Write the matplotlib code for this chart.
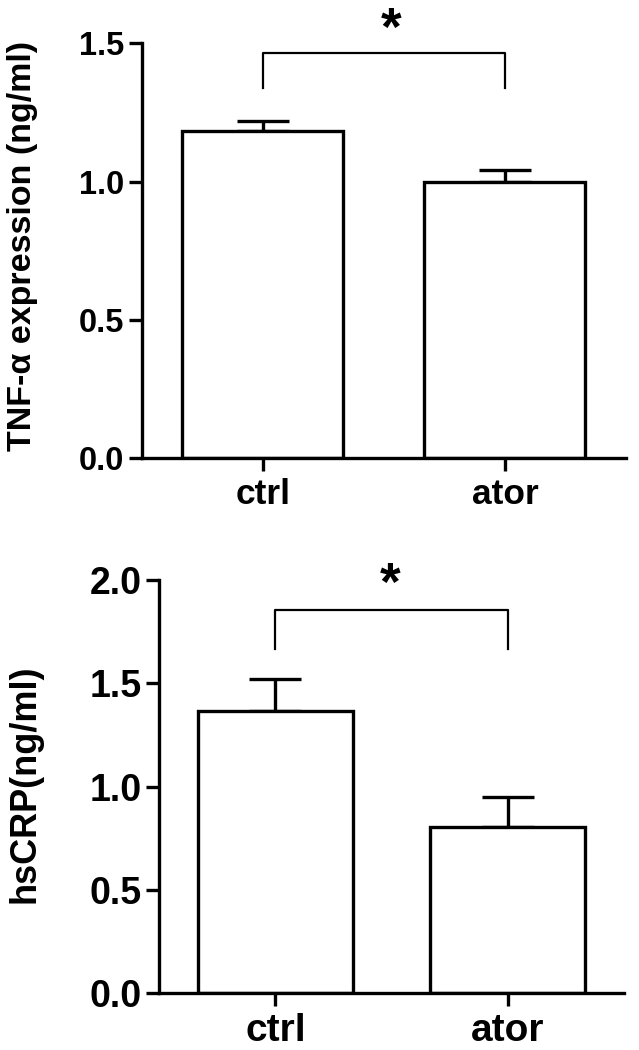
import numpy as np
import matplotlib
matplotlib.use("Agg")
import matplotlib.pyplot as plt

plt.rcParams['font.family'] = ['Liberation Sans', 'DejaVu Sans']
plt.rcParams['font.weight'] = 'bold'

groups = ["ctrl", "ator"]

tnf_mean = [1.183, 1.0]
tnf_err = [0.036, 0.042]
tnf_ylabel = "TNF-\u03b1 expression (ng/ml)"
tnf_ticks = [0.0, 0.5, 1.0, 1.5]
tnf_bracket = (1.466, 1.337)

crp_mean = [1.365, 0.805]
crp_err = [0.158, 0.142]
crp_ylabel = "hsCRP(ng/ml)"
crp_ticks = [0.0, 0.5, 1.0, 1.5, 2.0]
crp_bracket = (1.856, 1.666)


def draw_panel(ax, means, errs, ticks, ylabel, bracket, star_xy,
               tick_fs, xtick_fs, label_fs, label_x, label_y):
    x = np.arange(len(groups))
    ax.bar(x, means, width=0.665, color="white", edgecolor="black",
           linewidth=2.4, zorder=2)
    ax.errorbar(x, means, yerr=[np.zeros(len(errs)), errs], fmt="none",
                ecolor="black", elinewidth=2.4, capsize=19, capthick=2.4,
                zorder=1)
    ax.set_xlim(-0.5, 1.5)
    ax.set_ylim(0, ticks[-1])
    ax.set_yticks(ticks)
    ax.set_yticklabels([f"{t:.1f}" for t in ticks])
    ax.set_xticks(x)
    ax.set_xticklabels(groups)
    for s in ["top", "right"]:
        ax.spines[s].set_visible(False)
    for s in ["left", "bottom"]:
        ax.spines[s].set_linewidth(2.4)
    ax.tick_params(axis="both", width=2.4, length=9.5, pad=3)
    ax.tick_params(axis="y", labelsize=tick_fs)
    ax.tick_params(axis="x", labelsize=xtick_fs, pad=5)

    # y label placed by hand, centred on its own box
    ax.text(label_x, label_y, ylabel, transform=ax.transAxes, rotation=90,
            ha="center", va="center", fontsize=label_fs, fontweight="bold")

    # significance bracket
    top, low = bracket
    ax.plot([0, 0, 1, 1], [low, top, top, low], color="black",
            linewidth=1.6, clip_on=False)
    ax.text(star_xy[0], star_xy[1], "*", ha="center", va="center",
            fontsize=38, fontweight="bold", clip_on=False)


fig = plt.figure(figsize=(6.39, 10.5), dpi=100)
ax1 = fig.add_axes([0.2217, 0.5635, 0.758, 0.3952])
ax2 = fig.add_axes([0.2493, 0.0543, 0.727, 0.3933])

draw_panel(ax1, tnf_mean, tnf_err, tnf_ticks, tnf_ylabel, tnf_bracket,
           (0.53, 1.545), 23.5, 25.5, 24.5, -0.245, 0.513)
draw_panel(ax2, crp_mean, crp_err, crp_ticks, crp_ylabel, crp_bracket,
           (0.495, 1.97), 27, 28, 26, -0.289, 0.507)

fig.savefig("out.png", dpi=100)
